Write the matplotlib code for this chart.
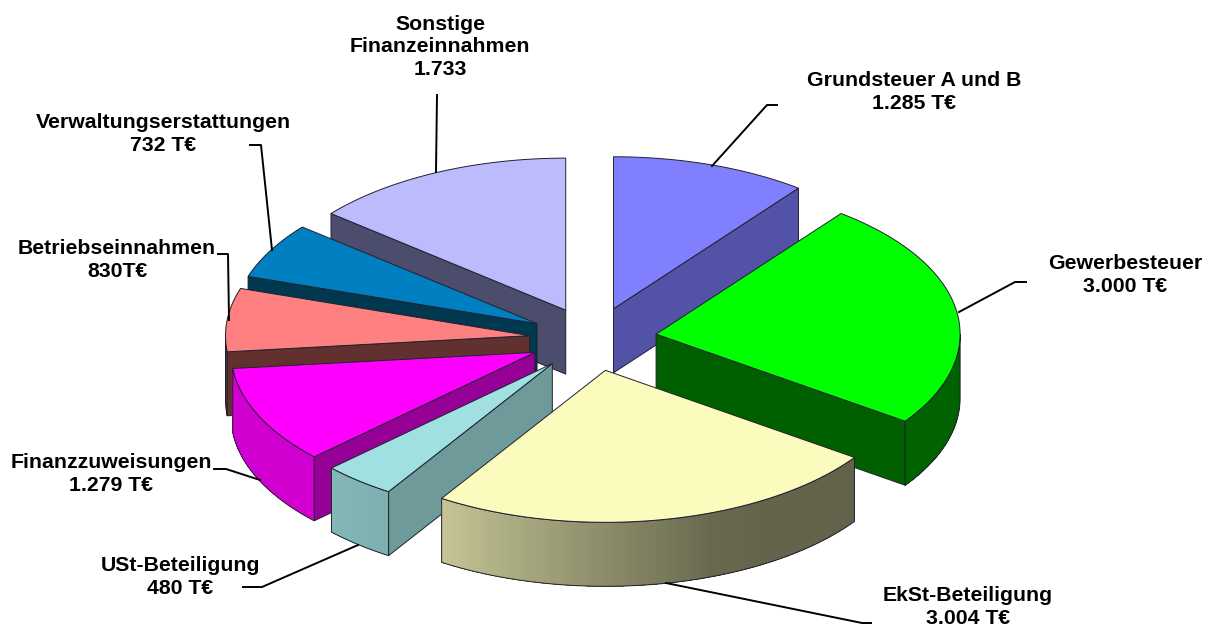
import matplotlib
matplotlib.use("Agg")
import matplotlib.pyplot as plt
import numpy as np
from matplotlib.patches import Polygon

plt.rcParams["font.family"] = ["Liberation Sans", "DejaVu Sans"]

# Einnahmen in T€, im Uhrzeigersinn ab 12 Uhr
categories = ["Grundsteuer A und B", "Gewerbesteuer", "EkSt-Beteiligung", "USt-Beteiligung",
              "Finanzzuweisungen", "Betriebseinnahmen", "Verwaltungserstattungen",
              "Sonstige Finanzeinnahmen"]
values = [1285, 3000, 3004, 480, 1279, 830, 732, 1733]
labels = ["Grundsteuer A und B\n1.285 T€", "Gewerbesteuer\n3.000 T€", "EkSt-Beteiligung\n3.004 T€",
          "USt-Beteiligung\n480 T€", "Finanzzuweisungen\n1.279 T€", "Betriebseinnahmen\n830T€",
          "Verwaltungserstattungen\n732 T€", "Sonstige\nFinanzeinnahmen\n1.733"]

top_colors = ["#8080ff", "#00ff00", "#fbfbbe", "#a0e0e0", "#ff00ff", "#ff8080", "#0080c0", "#bcbcfc"]
cut_colors = ["#5252a6", "#006000", "#64644c", "#6e9a9a", "#960096", "#633030", "#003850", "#4c4c6c"]
wall_dark = [None, None, None, None, None, "#633030", None, None]

label_xy = [(914, 92), (1125, 275), (968, 607), (180, 577), (111, 474), (117, 260), (163, 134), (440, 47)]
leaders = [[(712, 166), (767, 105), (777, 105)],
           [(959, 312), (1015, 282), (1026, 282)],
           [(666, 583), (862, 623), (871, 623)],
           [(358, 545), (262, 587), (243, 587)],
           [(260, 480), (226, 469), (214, 469)],
           [(229, 320), (228, 254), (218, 254)],
           [(272, 250), (261, 145), (250, 145)],
           [(436, 172), (437, 95)]]

CX, CY = 593, 339
RX, RY = 304, 152
EXPLODE = 0.21
DEPTH = 64
EDGE = "#202030"
# Helligkeit der Aussenwand je nach Winkel
shade_deg = [90, 150, 160, 212, 226, 270]
shade_val = [0.38, 0.40, 0.42, 0.78, 0.82, 0.82]


def ring(center, a, b, n=80):
    t = np.radians(np.linspace(a, b, n))
    return np.column_stack([center[0] + RX * np.sin(t), center[1] - RY * np.cos(t)])


def draw_wall(ax, center, a, b, color, override):
    # Aussenwand nur im vorderen Teil (90..270 Grad) sichtbar
    lo, hi = max(a, 90), min(b, 270)
    if lo >= hi:
        return
    rgb = np.array(matplotlib.colors.to_rgb(color))
    steps = np.linspace(lo, hi, max(int(hi - lo), 2) + 1)
    # jedes Stueck reicht bis zum Ende, so bleiben keine Streifen zwischen den Stuecken
    for s0, s1 in zip(steps[:-1], steps[1:]):
        pts = ring(center, s0, hi, 40)
        quad = np.vstack([pts, pts[::-1] + [0, DEPTH]])
        fc = override if override else rgb * np.interp((s0 + s1) / 2, shade_deg, shade_val)
        ax.add_patch(Polygon(quad, fc=fc, ec="none", lw=0, zorder=1))
    arc = ring(center, lo, hi)
    outline = np.vstack([arc, arc[::-1] + [0, DEPTH]])
    ax.add_patch(Polygon(outline, fc="none", ec=EDGE, lw=0.7, zorder=1))


def draw_cut(ax, center, theta, color):
    p = ring(center, theta, theta, 1)[0]
    face = [center, p, p + [0, DEPTH], (center[0], center[1] + DEPTH)]
    ax.add_patch(Polygon(face, fc=color, ec=EDGE, lw=0.7, zorder=1))


fig = plt.figure(figsize=(12.12, 6.28), dpi=100)
ax = fig.add_axes([0, 0, 1, 1])
ax.set_xlim(0, 1212)
ax.set_ylim(628, 0)
ax.axis("off")

edges = np.concatenate([[0], np.cumsum(values)]) / sum(values) * 360
# von hinten nach vorne zeichnen
for i in [7, 0, 6, 5, 4, 1, 3, 2]:
    a, b = edges[i], edges[i + 1]
    m = np.radians((a + b) / 2)
    center = (CX + EXPLODE * RX * np.sin(m), CY - EXPLODE * RY * np.cos(m))
    if np.sin(np.radians(a)) < 0:
        draw_cut(ax, center, a, cut_colors[i])
    if np.sin(np.radians(b)) > 0:
        draw_cut(ax, center, b, cut_colors[i])
    draw_wall(ax, center, a, b, top_colors[i], wall_dark[i])
    top = np.vstack([[center], ring(center, a, b)])
    ax.add_patch(Polygon(top, fc=top_colors[i], ec=EDGE, lw=0.7, zorder=1))

for pts in leaders:
    xs, ys = zip(*pts)
    ax.plot(xs, ys, color="black", lw=1.4, zorder=2)

for (x, y), text in zip(label_xy, labels):
    ax.text(x, y, text, ha="center", va="center", fontsize=15.3, fontweight="bold",
            linespacing=1.22, color="black", zorder=3)

fig.savefig("out.png", dpi=100)
plt.close(fig)
